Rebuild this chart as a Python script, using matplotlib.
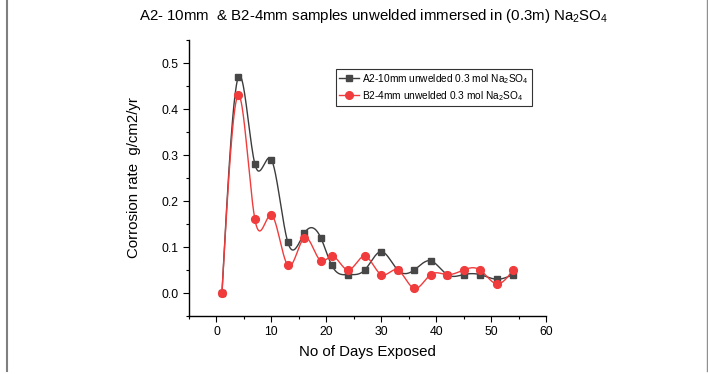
import numpy as np
import matplotlib
matplotlib.use("Agg")
import matplotlib.pyplot as plt
from matplotlib.lines import Line2D

plt.rcParams['font.family'] = ['Liberation Sans', 'DejaVu Sans']
plt.rcParams['mathtext.fontset'] = 'custom'
plt.rcParams['mathtext.rm'] = 'Liberation Sans'
plt.rcParams['mathtext.it'] = 'Liberation Sans'

days = [1, 4, 7, 10, 13, 16, 19, 21, 24, 27, 30, 33, 36, 39, 42, 45, 48, 51, 54]
a2_rate = [0, 0.47, 0.28, 0.29, 0.11, 0.13, 0.12, 0.06, 0.04, 0.05, 0.09, 0.05,
           0.05, 0.07, 0.04, 0.04, 0.04, 0.03, 0.04]
b2_rate = [0, 0.43, 0.16, 0.17, 0.06, 0.12, 0.07, 0.08, 0.05, 0.08, 0.04, 0.05,
           0.01, 0.04, 0.04, 0.05, 0.05, 0.02, 0.05]
label_a2 = "A2-10mm unwelded 0.3 mol Na$_2$SO$_4$"
label_b2 = "B2-4mm unwelded 0.3 mol Na$_2$SO$_4$"
title = "A2- 10mm  & B2-4mm samples unwelded immersed in (0.3m) Na$_2$SO$_4$"
xticks = [0, 10, 20, 30, 40, 50, 60]
yticks = [0.0, 0.1, 0.2, 0.3, 0.4, 0.5]


def natural_spline(x, y, n=40):
    x = np.asarray(x, float)
    y = np.asarray(y, float)
    k = len(x)
    h = np.diff(x)
    A = np.zeros((k, k))
    r = np.zeros(k)
    A[0, 0] = 1
    A[-1, -1] = 1
    for i in range(1, k - 1):
        A[i, i - 1] = h[i - 1]
        A[i, i] = 2 * (h[i - 1] + h[i])
        A[i, i + 1] = h[i]
        r[i] = 3 * ((y[i + 1] - y[i]) / h[i] - (y[i] - y[i - 1]) / h[i - 1])
    c = np.linalg.solve(A, r)
    xs, ys = [], []
    for i in range(k - 1):
        b = (y[i + 1] - y[i]) / h[i] - h[i] * (2 * c[i] + c[i + 1]) / 3
        d = (c[i + 1] - c[i]) / (3 * h[i])
        t = np.linspace(0, h[i], n, endpoint=(i == k - 2))
        xs.append(x[i] + t)
        ys.append(y[i] + b * t + c[i] * t ** 2 + d * t ** 3)
    return np.concatenate(xs), np.concatenate(ys)


fig = plt.figure(figsize=(7.08, 3.74), dpi=100)
ax = fig.add_axes([189 / 708, 58 / 374, 357 / 708, 276 / 374])

gray = '#3c3c3c'
red = '#f03c3c'
sx, sy = natural_spline(days, a2_rate)
ax.plot(sx, sy, color=gray, lw=1.0, zorder=2)
ax.plot(days, a2_rate, ls='none', marker='s', ms=5.0, color='#474747', zorder=3)
sx, sy = natural_spline(days, b2_rate)
ax.plot(sx, sy, color=red, lw=1.0, zorder=2)
ax.plot(days, b2_rate, ls='none', marker='o', ms=5.6, color=red, zorder=4)

ax.set_xlim(-5, 60)
ax.set_ylim(-0.05, 0.55)
ax.set_xticks(xticks)
ax.set_yticks(yticks)
ax.set_yticklabels([f"{v:.1f}" for v in yticks])
ax.set_xticks(np.arange(-5, 61, 5), minor=True)
ax.set_yticks(np.arange(-0.05, 0.551, 0.05), minor=True)
ax.tick_params(which='major', direction='out', length=4, width=0.8, labelsize=8.8, colors='black')
ax.tick_params(which='minor', direction='out', length=2.5, width=0.8)
for s in ['top', 'right']:
    ax.spines[s].set_visible(False)
for s in ['left', 'bottom']:
    ax.spines[s].set_linewidth(1.0)

ax.set_xlabel("No of Days Exposed", fontsize=10.8, labelpad=5)
ax.set_ylabel("Corrosion rate  g/cm2/yr", fontsize=10.8, labelpad=15)

handles = [
    Line2D([], [], color=gray, lw=1.0, marker='s', ms=5, markerfacecolor='#474747', markeredgecolor='#474747'),
    Line2D([], [], color=red, lw=1.0, marker='o', ms=5.5, markerfacecolor=red, markeredgecolor=red),
]
leg = ax.legend(handles, [label_a2, label_b2], loc='upper left',
                bbox_to_anchor=((336 - 189) / 357, (316 - 69) / 276),
                fontsize=7.3, frameon=True, fancybox=False, handlelength=2.0,
                borderpad=0.3, labelspacing=0.3, handletextpad=0.3, borderaxespad=0)
leg.get_frame().set_edgecolor('black')
leg.get_frame().set_linewidth(0.8)

fig.text(374 / 708, 1 - 16 / 374, title, ha='center', va='center', fontsize=10.8)

fig.add_artist(Line2D([6.5 / 708, 6.5 / 708], [3 / 374, 1], color='#808080', lw=1.5))
fig.add_artist(Line2D([707 / 708, 707 / 708], [3 / 374, 1], color='#909090', lw=1.0))

fig.savefig("out.png", dpi=100)
